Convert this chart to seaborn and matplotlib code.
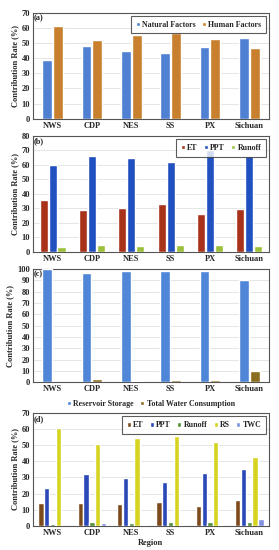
import pandas as pd
import matplotlib
matplotlib.use("Agg")
import matplotlib.pyplot as plt
import seaborn as sns

regions = ["NWS", "CDP", "NES", "SS", "PX", "Sichuan"]

# (a) natural vs human factors
natural = [38.5, 48.2, 45.0, 43.5, 47.3, 53.0]
human = [61.5, 51.8, 55.0, 56.5, 52.7, 47.0]

# (b) natural factors split
b_et = [36.0, 29.2, 30.3, 33.0, 25.8, 29.6]
b_ppt = [60.0, 66.0, 65.0, 62.0, 70.0, 66.2]
b_runoff = [3.4, 4.6, 4.2, 5.0, 4.5, 4.0]

# (c) human factors split
reservoir = [100.0, 96.8, 98.5, 97.8, 98.0, 90.5]
twc = [0.0, 3.2, 1.5, 2.2, 1.6, 9.5]

# (d) all factors
d_et = [14.0, 14.2, 13.8, 14.5, 12.2, 15.8]
d_ppt = [23.5, 32.0, 29.5, 27.0, 33.0, 35.3]
d_runoff = [1.2, 2.2, 2.0, 2.2, 2.2, 2.2]
d_rs = [61.0, 50.5, 54.5, 55.5, 52.0, 42.5]
d_twc = [0.0, 1.5, 0.5, 0.7, 0.5, 4.5]

sns.set_theme(style="white")
plt.rcParams['font.family'] = ['Liberation Serif', 'DejaVu Serif']
plt.rcParams['font.weight'] = 'bold'

FS = 6.0


def long_df(series):
    rows = []
    for name, vals in series.items():
        for r, v in zip(regions, vals):
            rows.append({"Region": r, "Factor": name, "Rate": v})
    return pd.DataFrame(rows)


def panel(ax, series, colors, ymax, step, tag, width, legend_kw, xlabel=None):
    df = long_df(series)
    sns.barplot(data=df, x="Region", y="Rate", hue="Factor", palette=colors,
                width=width, gap=0.1, ax=ax, zorder=3, saturation=1)
    ax.set_ylim(0, ymax)
    ax.set_yticks(range(0, ymax + 1, step))
    ax.yaxis.grid(True, color="#e0e0e0", linewidth=0.6, zorder=0)
    ax.set_axisbelow(True)
    ax.tick_params(axis="both", length=0, labelsize=FS, pad=2)
    for lab in ax.get_xticklabels() + ax.get_yticklabels():
        lab.set_fontweight("bold")
    ax.set_ylabel("Contribution Rate (%)", fontsize=FS, fontweight="bold", labelpad=2)
    if xlabel:
        ax.set_xlabel(xlabel, fontsize=FS, fontweight="bold", labelpad=2)
    else:
        ax.set_xlabel("")
    for s in ax.spines.values():
        s.set_color("#555555")
        s.set_linewidth(0.8)
    ax.text(0.005, 0.985, tag, transform=ax.transAxes, ha="left", va="top",
            fontsize=FS, fontweight="bold")
    leg = ax.legend(prop={"size": FS - 0.3, "weight": "bold"}, handlelength=0.5,
                    handleheight=0.5, handletextpad=0.3, columnspacing=0.8,
                    borderpad=0.3, **legend_kw)
    leg.get_frame().set_edgecolor("#333333")
    leg.get_frame().set_linewidth(0.8)
    leg.get_frame().set_boxstyle("square")


fig = plt.figure(figsize=(2.79, 5.5), dpi=100)
ax_a = fig.add_axes([0.118, 0.784, 0.846, 0.193])
ax_b = fig.add_axes([0.118, 0.542, 0.846, 0.211])
ax_c = fig.add_axes([0.118, 0.305, 0.846, 0.206])
ax_d = fig.add_axes([0.118, 0.044, 0.846, 0.205])

panel(ax_a, {"Natural Factors": natural, "Human Factors": human},
      ["#4f80d2", "#c8802e"], 70, 10, "(a)", 0.55,
      dict(loc="upper right", ncol=2, bbox_to_anchor=(0.995, 0.985)))

panel(ax_b, {"ET": b_et, "PPT": b_ppt, "Runoff": b_runoff},
      ["#a8321a", "#2150c0", "#9cc03a"], 80, 10, "(b)", 0.68,
      dict(loc="upper right", ncol=3, bbox_to_anchor=(0.995, 0.985)))

panel(ax_c, {"Reservoir Storage": reservoir, "Total Water Consumption": twc},
      ["#4f86d8", "#8c6c1e"], 100, 10, "(c)", 0.55,
      dict(loc="center", ncol=2, bbox_to_anchor=(0.5, -0.19), frameon=False))

panel(ax_d, {"ET": d_et, "PPT": d_ppt, "Runoff": d_runoff, "RS": d_rs, "TWC": d_twc},
      ["#7d4a1c", "#2a48b8", "#4e8c32", "#d6d420", "#7f90e0"], 70, 10, "(d)", 0.74,
      dict(loc="upper right", ncol=5, bbox_to_anchor=(0.995, 0.985)), xlabel="Region")

fig.savefig("out.png", dpi=100)
